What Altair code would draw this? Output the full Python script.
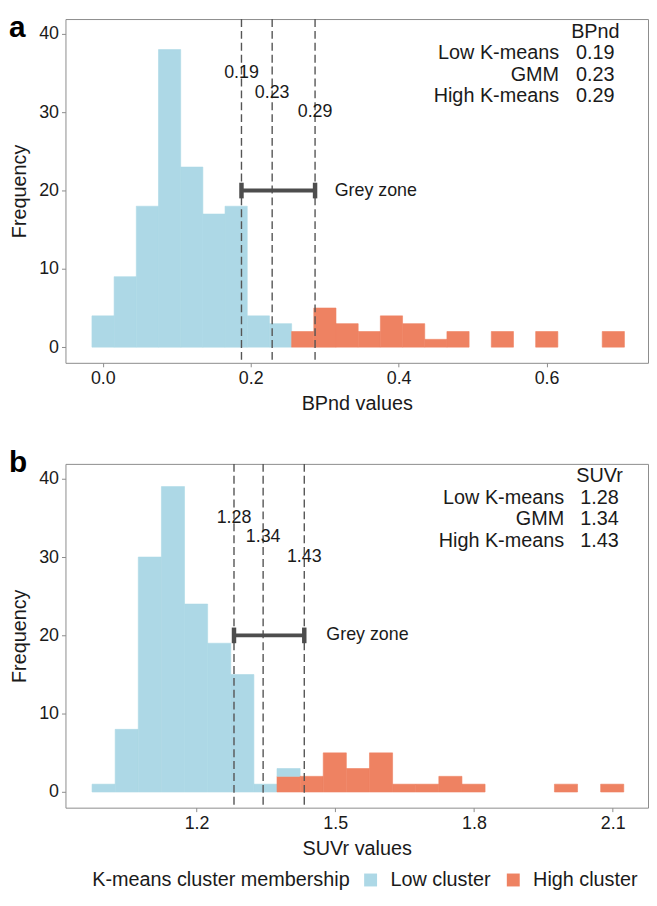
import altair as alt
import pandas as pd

FONT = "Liberation Sans"
LOW_COLOR = "#ADD8E6"
HIGH_COLOR = "#EE8262"
TXT = "#1a1a1a"
SEG = "#4D4D4D"

clusters = ["Low cluster", "High cluster"]
method_names = ["Low K-means", "GMM", "High K-means"]

# ---- panel a : BPnd ----
bp_bin_start = -0.0147
bp_bin_width = 0.030
bp_low = [4, 9, 18, 38, 23, 17, 18, 4, 3, 0, 0, 0, 0, 0, 0, 0, 0, 0, 0, 0, 0, 0, 0, 0]
bp_high = [0, 0, 0, 0, 0, 0, 0, 0, 0, 2, 5, 3, 2, 4, 3, 1, 2, 0, 2, 0, 2, 0, 0, 2]
bp_cuts = [0.1875, 0.229, 0.287]
bp_cut_labels = ["0.19", "0.23", "0.29"]
bp_cut_label_y = [35, 32.5, 30]
bp_header = "BPnd"
bp_table_values = ["0.19", "0.23", "0.29"]

# ---- panel b : SUVr ----
suvr_bin_start = 0.974
suvr_bin_width = 0.05
suvr_low = [1, 8, 30, 39, 24, 19, 15, 1, 1, 0, 0, 0, 0, 0, 0, 0, 0, 0, 0, 0, 0, 0, 0]
suvr_high = [0, 0, 0, 0, 0, 0, 0, 0, 2, 2, 5, 3, 5, 1, 1, 2, 1, 0, 0, 0, 1, 0, 1]
suvr_cuts = [1.281, 1.344, 1.433]
suvr_cut_labels = ["1.28", "1.34", "1.43"]
suvr_cut_label_y = [35, 32.5, 30]
suvr_header = "SUVr"
suvr_table_values = ["1.28", "1.34", "1.43"]

grey_zone_y = 20
grey_zone_text = "Grey zone"

PLOT_W = 588
PLOT_H = 347


def hist_df(start, width, low, high):
    rows = []
    for i, (lo, hi) in enumerate(zip(low, high)):
        x0 = start + i * width
        x1 = x0 + width
        if hi > 0:
            rows.append({"x0": x0, "x1": x1, "count": hi, "cluster": clusters[1], "order": 0})
        if lo > 0:
            rows.append({"x0": x0, "x1": x1, "count": lo, "cluster": clusters[0], "order": 1})
    return pd.DataFrame(rows)


def panel(letter, start, width, low, high, cuts, cut_labels, cut_label_y,
          header, table_values, xdomain, xticks, xtitle, gz_text_x,
          tab_label_x, tab_value_x, show_legend):
    xscale = alt.Scale(domain=xdomain, nice=False, zero=False)
    yscale = alt.Scale(domain=[-2.0, 41.9], nice=False, zero=False)
    xaxis = alt.Axis(values=xticks, format=".1f", title=xtitle)
    yaxis = alt.Axis(values=[0, 10, 20, 30, 40], title="Frequency", titlePadding=9)

    if show_legend:
        legend = alt.Legend(
            orient="none", legendX=27, legendY=PLOT_H + 63, direction="horizontal",
            titleOrient="left", title="K-means cluster membership", titleLimit=0,
            titleFont=FONT, titleFontSize=20, titleFontWeight="normal", titleColor=TXT,
            labelFont=FONT, labelFontSize=20, labelColor=TXT, labelLimit=0,
            symbolType="square", symbolSize=170, symbolStrokeWidth=0,
            labelOffset=10, columnPadding=12, titlePadding=10, padding=0,
        )
    else:
        legend = None

    hdf = hist_df(start, width, low, high)
    bars = alt.Chart(hdf).transform_stack(
        stack="count", groupby=["x0"], as_=["y0", "y1"],
        sort=[alt.SortField("order", "ascending")],
    ).mark_bar(strokeWidth=0.6).encode(
        x=alt.X("x0:Q", scale=xscale, axis=xaxis),
        x2="x1:Q",
        y=alt.Y("y0:Q", scale=yscale, axis=yaxis),
        y2="y1:Q",
        color=alt.Color("cluster:N", scale=alt.Scale(domain=clusters, range=[LOW_COLOR, HIGH_COLOR]),
                        legend=legend),
        stroke=alt.Stroke("cluster:N", scale=alt.Scale(domain=clusters, range=[LOW_COLOR, HIGH_COLOR]),
                          legend=None),
    )

    cdf = pd.DataFrame({"x": cuts, "label": cut_labels, "ly": cut_label_y})
    rules = alt.Chart(cdf).mark_rule(color="#555555", strokeWidth=1.4, strokeDash=[8, 4]).encode(
        x=alt.X("x:Q", scale=xscale, axis=xaxis)
    )
    cut_text = alt.Chart(cdf).mark_text(font=FONT, fontSize=18, color=TXT, align="center",
                                        baseline="middle").encode(
        x=alt.X("x:Q", scale=xscale, axis=xaxis),
        y=alt.Y("ly:Q", scale=yscale, axis=yaxis),
        text="label:N",
    )

    gdf = pd.DataFrame({"xa": [cuts[0]], "xb": [cuts[-1]], "y": [grey_zone_y],
                        "tx": [gz_text_x], "t": [grey_zone_text]})
    seg = alt.Chart(gdf).mark_rule(color=SEG, strokeWidth=4).encode(
        x=alt.X("xa:Q", scale=xscale, axis=xaxis), x2="xb:Q",
        y=alt.Y("y:Q", scale=yscale, axis=yaxis),
    )
    cap_df = pd.DataFrame({"x": [cuts[0], cuts[-1]], "ya": [grey_zone_y - 1] * 2,
                           "yb": [grey_zone_y + 1] * 2})
    caps = alt.Chart(cap_df).mark_rule(color=SEG, strokeWidth=4.5).encode(
        x=alt.X("x:Q", scale=xscale, axis=xaxis),
        y=alt.Y("ya:Q", scale=yscale, axis=yaxis), y2="yb:Q",
    )
    gz_text = alt.Chart(gdf).mark_text(font=FONT, fontSize=18, color=TXT, align="left",
                                       baseline="middle").encode(
        x=alt.X("tx:Q", scale=xscale, axis=xaxis),
        y=alt.Y("y:Q", scale=yscale, axis=yaxis),
        text="t:N",
    )

    row_y = [40.3 - 2.75 * (i + 1) for i in range(len(method_names))]
    tdf = pd.DataFrame({"name": method_names, "val": table_values, "y": row_y,
                        "lx": [tab_label_x] * 3, "vx": [tab_value_x] * 3})
    hdf2 = pd.DataFrame({"t": [header], "x": [tab_value_x], "y": [40.3]})
    tab_head = alt.Chart(hdf2).mark_text(font=FONT, fontSize=20, color=TXT, align="center",
                                         baseline="middle").encode(
        x=alt.X("x:Q", scale=xscale, axis=xaxis),
        y=alt.Y("y:Q", scale=yscale, axis=yaxis), text="t:N")
    tab_names = alt.Chart(tdf).mark_text(font=FONT, fontSize=20, color=TXT, align="right",
                                         baseline="middle").encode(
        x=alt.X("lx:Q", scale=xscale, axis=xaxis),
        y=alt.Y("y:Q", scale=yscale, axis=yaxis), text="name:N")
    tab_vals = alt.Chart(tdf).mark_text(font=FONT, fontSize=20, color=TXT, align="center",
                                        baseline="middle").encode(
        x=alt.X("vx:Q", scale=xscale, axis=xaxis),
        y=alt.Y("y:Q", scale=yscale, axis=yaxis), text="val:N")

    ldf = pd.DataFrame({"t": [letter]})
    letter_y = -6 if letter == "a" else -16
    letter_mark = alt.Chart(ldf).mark_text(font=FONT, fontSize=30, fontWeight="bold", color="#000000",
                                           align="left", baseline="top").encode(
        x=alt.value(-57), y=alt.value(letter_y), text="t:N")

    return alt.layer(bars, rules, seg, caps, cut_text, gz_text, tab_head, tab_names, tab_vals,
                     letter_mark).properties(width=PLOT_W, height=PLOT_H)


pa = panel("a", bp_bin_start, bp_bin_width, bp_low, bp_high, bp_cuts, bp_cut_labels, bp_cut_label_y,
           bp_header, bp_table_values, [-0.0505, 0.7372], [0.0, 0.2, 0.4, 0.6], "BPnd values",
           0.3135, 0.617, 0.666, False)
pb = panel("b", suvr_bin_start, suvr_bin_width, suvr_low, suvr_high, suvr_cuts, suvr_cut_labels,
           suvr_cut_label_y, suvr_header, suvr_table_values, [0.9165, 2.1764], [1.2, 1.5, 1.8, 2.1],
           "SUVr values", 1.4807, 1.995, 2.0715, True)

chart = alt.vconcat(pa, pb, spacing=33).resolve_scale(color="independent", stroke="independent").configure_view(
    stroke="#8c8c8c", strokeWidth=1
).configure_axis(
    domain=False, grid=False, tickColor="#8c8c8c", tickSize=4, labelPadding=3,
    labelFont=FONT, labelFontSize=18, labelColor=TXT,
    titleFont=FONT, titleFontSize=20, titleFontWeight="normal", titleColor=TXT,
).configure_axisX(titlePadding=6).properties(padding=0, background="white")

chart.save("out.html", embed_options={"renderer": "svg", "actions": False})
